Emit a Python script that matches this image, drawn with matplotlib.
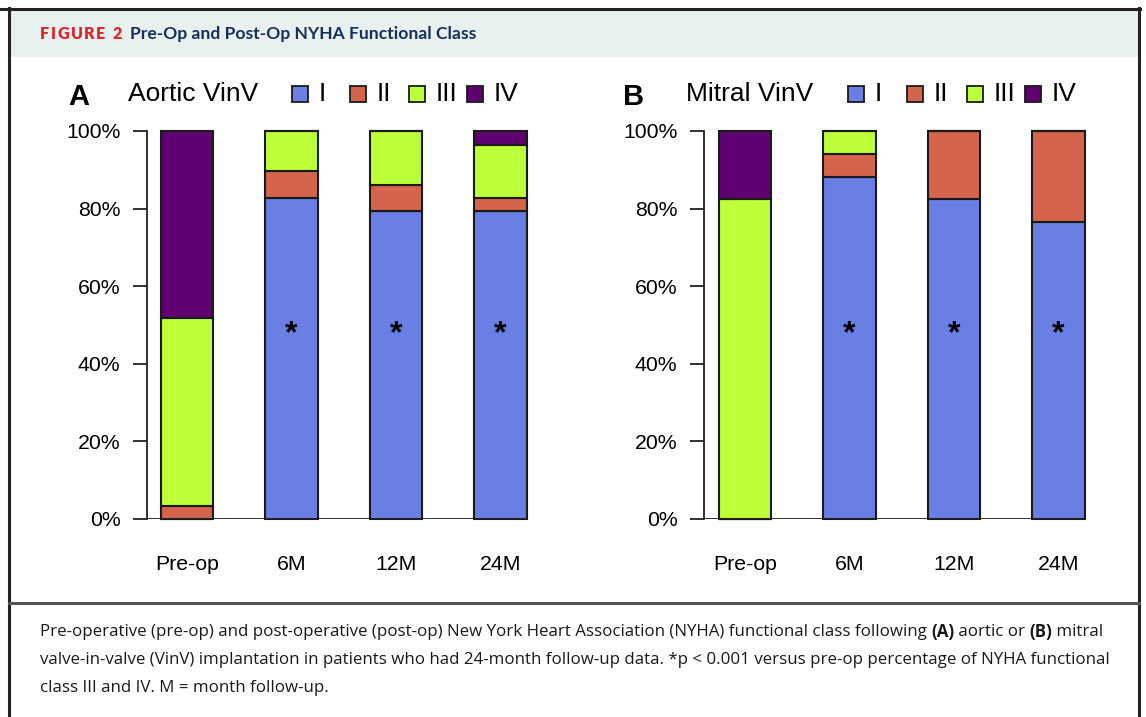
import matplotlib
matplotlib.use("Agg")
import matplotlib.pyplot as plt
from matplotlib.patches import Rectangle
from matplotlib.lines import Line2D
import numpy as np

# ---------------- data ----------------
timepoints = ["Pre-op", "6M", "12M", "24M"]
classes = ["I", "II", "III", "IV"]
# percentages of patients per NYHA class (I, II, III, IV) at each time point
aortic_I = [0.0, 82.8, 79.3, 79.3]
aortic_II = [3.4, 6.9, 6.9, 3.4]
aortic_III = [48.3, 10.3, 13.8, 13.8]
aortic_IV = [48.3, 0.0, 0.0, 3.4]
mitral_I = [0.0, 88.2, 82.4, 76.5]
mitral_II = [0.0, 5.9, 17.6, 23.5]
mitral_III = [82.4, 5.9, 0.0, 0.0]
mitral_IV = [17.6, 0.0, 0.0, 0.0]
significant = [False, True, True, True]
yticks = [0, 20, 40, 60, 80, 100]
ytick_labels = ["0%", "20%", "40%", "60%", "80%", "100%"]

colors = ["#6a7fe3", "#d5644c", "#bdff38", "#600070"]

W, H = 1146, 717
fig = plt.figure(figsize=(W / 100, H / 100), dpi=100)
fig.patch.set_facecolor("white")
renderer = fig.canvas.get_renderer()


def fx(x):
    return x / W


def fy(y):
    return 1 - y / H


# ---------------- frame / header ----------------
fig.add_artist(Rectangle((fx(9), fy(57)), fx(1139) - fx(9), fy(9) - fy(57),
                         transform=fig.transFigure, facecolor="#e8f0f0",
                         edgecolor="none", zorder=0))
for (x0, y0, x1, y1, lw, c) in [(0, 8.5, 1140, 8.5, 2.2, "#222222"),
                                (9, 8, 9, 717, 2.2, "#222222"),
                                (1139, 8, 1139, 717, 2.2, "#222222"),
                                (9, 603, 1139, 603, 2.2, "#555555")]:
    fig.add_artist(Line2D([fx(x0), fx(x1)], [fy(y0), fy(y1)],
                          transform=fig.transFigure, color=c, lw=lw))

# letter-spaced "FIGURE 2"
xpos = 40
for ch in "FIGURE 2":
    t = fig.text(fx(xpos), fy(34), ch, family="Lato", weight="heavy",
                 fontsize=11.5, color="#e3252c", va="center", ha="left")
    xpos += t.get_window_extent(renderer=renderer).width + 1.6
fig.text(fx(130), fy(34), "Pre-Op and Post-Op NYHA Functional Class",
         family="Lato", weight="bold", fontsize=12.6, color="#15305e",
         va="center", ha="left")

# ---------------- panels ----------------
FONT = "Liberation Sans"
panels = [
    dict(letter="A", title="Aortic VinV", axis_x=147, c0=187,
         data=[aortic_I, aortic_II, aortic_III, aortic_IV],
         letter_x=68, title_x=128, leg_sq=[292, 350, 409, 467]),
    dict(letter="B", title="Mitral VinV", axis_x=704, c0=745,
         data=[mitral_I, mitral_II, mitral_III, mitral_IV],
         letter_x=623, title_x=686, leg_sq=[848, 907, 967, 1025]),
]
unit = 104.5
top_px, bot_px = 131, 519

for p in panels:
    right_px = p["axis_x"] + 400
    ax = fig.add_axes([fx(p["axis_x"]), fy(bot_px), (right_px - p["axis_x"]) / W,
                       (bot_px - top_px) / H])
    xl = (p["axis_x"] - p["c0"]) / unit
    xr = (right_px - p["c0"]) / unit
    ax.set_xlim(xl, xr)
    ax.set_ylim(0, 100)
    ax.patch.set_alpha(0)
    x = np.arange(len(timepoints))
    bottom = np.zeros(len(timepoints))
    for vals, col in zip(p["data"], colors):
        v = np.array(vals)
        ax.bar(x, v, width=0.5, bottom=bottom, color=col, edgecolor="#1a1a1a",
               linewidth=1.5, clip_on=False, zorder=3)
        bottom = bottom + v
    for xi, s in zip(x, significant):
        if s:
            ax.text(xi, 47.5, "*", ha="center", va="center", fontsize=23,
                    family=FONT, weight="bold", zorder=5)
    for s in ["top", "right", "bottom"]:
        ax.spines[s].set_visible(False)
    ax.spines["left"].set_linewidth(1.3)
    ax.spines["left"].set_color("#222222")
    ax.axhline(0, xmin=0, xmax=(3.25 - xl) / (xr - xl), color="#222222",
               lw=1.3, zorder=4)
    ax.set_yticks(yticks)
    ax.set_yticklabels(ytick_labels, family=FONT, fontsize=15.3)
    ax.tick_params(axis="y", length=10, width=1.3, color="#222222", pad=9)
    ax.set_xticks(x)
    ax.set_xticklabels(timepoints, family=FONT, fontsize=15.3)
    ax.tick_params(axis="x", length=0, pad=26)

    # panel letter, title and legend
    fig.text(fx(p["letter_x"]), fy(97), p["letter"], family=FONT, weight="bold",
             fontsize=21, va="center", ha="left")
    fig.text(fx(p["title_x"]), fy(94), p["title"], family=FONT, fontsize=19,
             va="center", ha="left")
    for sx, cl, col in zip(p["leg_sq"], classes, colors):
        fig.add_artist(Rectangle((fx(sx), fy(102)), 16 / W, 16 / H,
                                 transform=fig.transFigure, facecolor=col,
                                 edgecolor="#1a1a1a", lw=1.3))
        fig.text(fx(sx + 27), fy(94), cl, family=FONT, fontsize=19,
                 va="center", ha="left")

# ---------------- caption ----------------
cap_lines = [
    [("Pre-operative (pre-op) and post-operative (post-op) New York Heart Association (NYHA) functional class following ", "normal"),
     ("(A)", "bold"), (" aortic or ", "normal"), ("(B)", "bold"), (" mitral", "normal")],
    [("valve-in-valve (VinV) implantation in patients who had 24-month follow-up data. *p < 0.001 versus pre-op percentage of NYHA functional", "normal")],
    [("class III and IV. M = month follow-up.", "normal")],
]
for i, line in enumerate(cap_lines):
    xpos = 40
    ypx = 632 + 28 * i
    for txt, wt in line:
        t = fig.text(fx(xpos), fy(ypx), txt, family="Open Sans", weight=wt,
                     fontsize=12.2, color="#1a1a1a", va="center", ha="left")
        bb = t.get_window_extent(renderer=renderer)
        xpos += bb.width

fig.savefig("out.png", dpi=100)
